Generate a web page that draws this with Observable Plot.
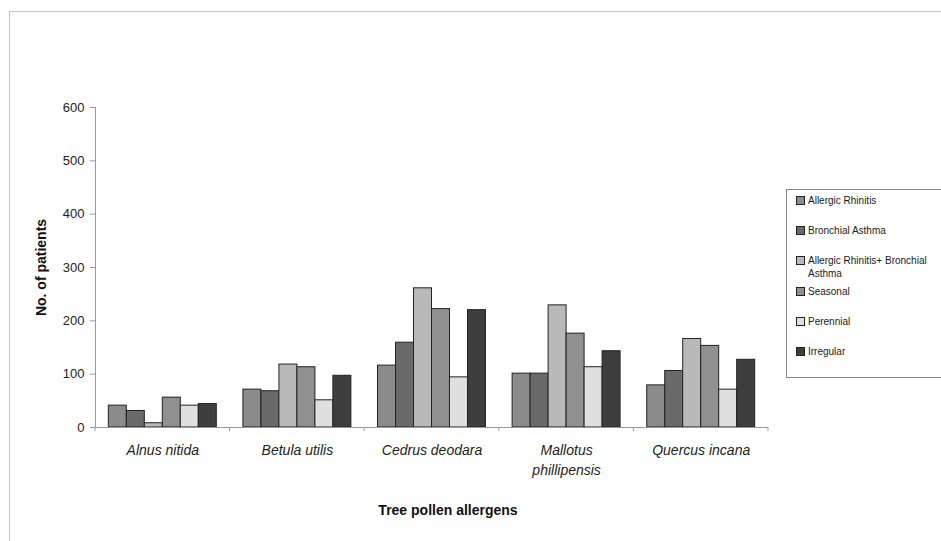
<!DOCTYPE html>
<html>
<head>
<meta charset="utf-8">
<script src="https://cdn.jsdelivr.net/npm/d3@7"></script>
<script src="https://cdn.jsdelivr.net/npm/@observablehq/plot@0.6"></script>
<style>
  html, body { margin: 0; padding: 0; background: #fff; overflow: hidden; }
  #wrap { position: relative; width: 941px; height: 541px; overflow: hidden; font-family: "Liberation Sans", Arial, sans-serif; }
  #frame { position: absolute; left: 9px; top: 11px; width: 1000px; height: 600px; border-left: 1.5px solid #c4c4c4; border-top: 1.5px solid #c4c4c4; }
  #chart { position: absolute; left: 0; top: 0; }
  #xtitle { position: absolute; left: 0; width: 896px; top: 502px; text-align: center; font-weight: bold; font-size: 14px; color: #111; }
  #legend { position: absolute; left: 786px; top: 189px; width: 200px; height: 189px; border: 1px solid #8a8a8a; box-sizing: border-box; background: #fff; }
  .entry { position: absolute; left: 9px; width: 140px; font-size: 10px; line-height: 13px; color: #1a1a1a; display: flex; align-items: flex-start; }
  .sw { flex: none; width: 7px; height: 7px; border: 1px solid #222; margin-top: 2px; margin-right: 3px; }
</style>
</head>
<body>
<div id="wrap">
  <div id="frame"></div>
  <div id="chart"></div>
  <div id="xtitle">Tree pollen allergens</div>
  <div id="legend"></div>
</div>
<script>
const categories = ["Alnus nitida", "Betula utilis", "Cedrus deodara", "Mallotus phillipensis", "Quercus incana"];
const categoryLabels = ["Alnus nitida", "Betula utilis", "Cedrus deodara", "Mallotus\nphillipensis", "Quercus incana"];
const series = ["Allergic Rhinitis", "Bronchial Asthma", "Allergic Rhinitis+ Bronchial Asthma", "Seasonal", "Perennial", "Irregular"];
const allergicRhinitis = [41, 71, 116, 101, 79];
const bronchialAsthma = [31, 68, 159, 101, 106];
const rhinitisPlusAsthma = [8, 118, 261, 229, 166];
const seasonal = [56, 113, 222, 176, 153];
const perennial = [41, 51, 94, 113, 71];
const irregular = [44, 97, 220, 143, 127];
const yTicks = [0, 100, 200, 300, 400, 500, 600];
const colors = ["#8c8c8c", "#6a6a6a", "#b9b9b9", "#909090", "#dfdfdf", "#3e3e3e"];

const seriesValues = [allergicRhinitis, bronchialAsthma, rhinitisPlusAsthma, seasonal, perennial, irregular];
const data = series.flatMap((s, j) => categories.map((c, i) => ({tree: c, series: s, value: seriesValues[j][i]})));
const labelOf = new Map(categories.map((c, i) => [c, categoryLabels[i]]));

const chart = Plot.plot({
  width: 941,
  height: 541,
  marginLeft: 95,
  marginRight: 173,
  marginTop: 107,
  marginBottom: 114,
  style: {fontFamily: "Liberation Sans, Arial, sans-serif", background: "transparent", color: "#222"},
  fx: {domain: categories, padding: 0, round: false, label: null},
  x: {domain: series, paddingInner: 0, paddingOuter: 0.74, round: false, axis: null},
  y: {domain: [0, 600]},
  color: {domain: series, range: colors},
  marks: [
    Plot.barY(data, {fx: "tree", x: "series", y: "value", fill: "series", stroke: "#222", strokeWidth: 1}),
    Plot.ruleY([0], {stroke: "#9a9a9a", strokeWidth: 1}),
    Plot.frame({anchor: "left", stroke: "#9a9a9a", facetAnchor: "left"}),
    Plot.axisY({ticks: yTicks, tickSize: 5, tickPadding: 6, stroke: "#9a9a9a", fontSize: 13, color: "#222",
      label: "No. of patients", labelAnchor: "center", labelArrow: "none", labelOffset: 59}),
    Plot.axisFx({anchor: "bottom", tickSize: 0, tickPadding: 13, label: null, fontSize: 14, fontStyle: "italic",
      lineHeight: 1.45, tickFormat: (d) => labelOf.get(d)})
  ]
});
document.getElementById("chart").appendChild(chart);

// style y-axis label bold
d3.select(chart).selectAll("text").filter(function() { return this.textContent === "No. of patients"; })
  .attr("font-weight", "bold").attr("font-size", 14).attr("fill", "#111");

// small ticks at category boundaries on the x axis
const fx = chart.scale("fx");
const y = chart.scale("y");
const y0 = y.apply(0);
const bounds = categories.map((c) => fx.apply(c)).concat([fx.apply(categories[categories.length - 1]) + fx.bandwidth]);
d3.select(chart).append("g").attr("stroke", "#9a9a9a")
  .selectAll("line").data(bounds).join("line")
  .attr("x1", (d) => d).attr("x2", (d) => d).attr("y1", y0).attr("y2", y0 + 4);

// legend
const legend = d3.select("#legend");
const slotTops = series.map((s, i) => 4 + 30.2 * i);
series.forEach((s, i) => {
  const e = legend.append("div").attr("class", "entry").style("top", slotTops[i] + "px");
  e.append("div").attr("class", "sw").style("background", colors[i]);
  e.append("div").text(s);
});
</script>
</body>
</html>
